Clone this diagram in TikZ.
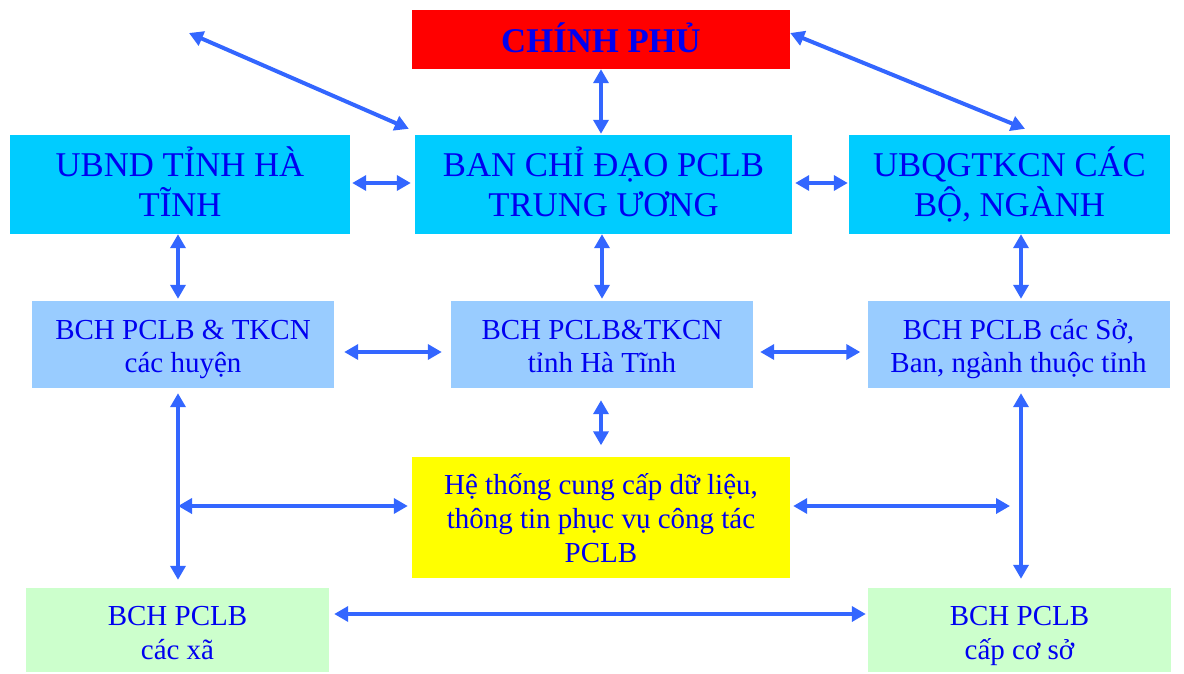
\documentclass[tikz,border=0pt]{standalone}
\usepackage{fontspec}
\setmainfont{Liberation Serif}
\usetikzlibrary{arrows.meta,calc}
\definecolor{govred}{RGB}{255,0,0}
\definecolor{boxcyan}{RGB}{0,204,255}
\definecolor{boxlblue}{RGB}{153,204,255}
\definecolor{boxyellow}{RGB}{255,255,0}
\definecolor{boxgreen}{RGB}{204,255,204}
\definecolor{arrblue}{RGB}{51,102,255}
\definecolor{txtblue}{RGB}{0,0,240}
\newcommand\hstrut[1]{\rule{0pt}{#1}}
\newcommand\dstrut[1]{\rule[-#1]{0pt}{#1}}
\tikzset{
  box/.style={inner sep=0pt, align=center, text=txtblue, anchor=center},
  bigbox/.style={box, fill=boxcyan, minimum height=99pt, font=\fontsize{34.7}{40}\selectfont},
  midbox/.style={box, fill=boxlblue, minimum height=87pt, minimum width=302pt, font=\fontsize{29}{33}\selectfont},
  lowbox/.style={box, fill=boxgreen, minimum height=84pt, minimum width=303pt, font=\fontsize{29}{34}\selectfont},
  arr/.style={draw=arrblue, line width=4pt, {Triangle[length=14pt,width=15pt]}-{Triangle[length=14pt,width=15pt]}},
}
\begin{document}
\begin{tikzpicture}[x=1pt,y=-1pt]
\useasboundingbox (0,0) rectangle (1184,673);
% nodes
\node[box, fill=govred, minimum width=378pt, minimum height=59pt, font=\fontsize{34.7}{40}\selectfont\bfseries] (gov) at (601,39.5) {\hstrut{33.6pt}CHÍNH PHỦ\dstrut{8pt}};
\node[bigbox, minimum width=340pt] (ubnd) at (180,184.5) {\hstrut{34.4pt}UBND TỈNH HÀ\\TĨNH\dstrut{10pt}};
\node[bigbox, minimum width=377pt] (ban) at (603.5,184.5) {\hstrut{34.4pt}BAN CHỈ ĐẠO PCLB\\TRUNG ƯƠNG\dstrut{10pt}};
\node[bigbox, minimum width=321pt] (ubqg) at (1009.5,184.5) {\hstrut{34.4pt}UBQGTKCN CÁC\\BỘ, NGÀNH\dstrut{10pt}};
\node[midbox] (huyen) at (183,344.5) {\hstrut{30pt}BCH PCLB \& TKCN\\các huyện\dstrut{8pt}};
\node[midbox] (tinh) at (602,344.5) {\hstrut{30pt}BCH PCLB\&TKCN\\tỉnh Hà Tĩnh\dstrut{8pt}};
\node[midbox] (so) at (1018.5,344.5) {\hstrut{30pt}BCH PCLB các Sở,\\Ban, ngành thuộc tỉnh\dstrut{8pt}};
\node[box, fill=boxyellow, minimum width=378pt, minimum height=121pt, font=\fontsize{29}{34}\selectfont] (ht) at (601,517) {\hstrut{30pt}Hệ thống cung cấp dữ liệu,\\thông tin phục vụ công tác\\PCLB\dstrut{8pt}};
\node[lowbox] (xa) at (177.5,630) {\hstrut{32pt}BCH PCLB\\các xã\dstrut{8pt}};
\node[lowbox] (coso) at (1019.5,630) {\hstrut{32pt}BCH PCLB\\cấp cơ sở\dstrut{8pt}};
% free ends / junctions
\coordinate (tl) at (189,33);
\coordinate (jl) at (178,506);
\coordinate (jr) at (1010,506);
\coordinate (jrv) at (1021,506);
% connectors
\draw[arr] (tl) -- ($(ban.north west)+(-6,-6)$);
\draw[arr] ([yshift=6.5pt]gov.east) -- ($(ubqg.north)+(15.5,-6)$);
\draw[arr, shorten <=0pt, shorten >=1pt] (gov.south) -- (gov.south |- ban.north);
\draw[arr, shorten <=2pt, shorten >=4pt] ([yshift=1.5pt]ubnd.east) -- ([yshift=1.5pt]ban.west);
\draw[arr, shorten <=3pt, shorten >=1pt] ([yshift=1.5pt]ban.east) -- ([yshift=1.5pt]ubqg.west);
\draw[arr, shorten <=0pt, shorten >=2pt] ($(ubnd.south)+(-2,0)$) -- ($(huyen.north)+(-5,0)$);
\draw[arr, shorten <=0pt, shorten >=2pt] (tinh.north |- ban.south) -- (tinh.north);
\draw[arr, shorten <=0pt, shorten >=2pt] ($(so.north |- ubqg.south)+(2.5,0)$) -- ($(so.north)+(2.5,0)$);
\draw[arr, shorten <=10pt, shorten >=9pt] ([yshift=-7.5pt]huyen.east) -- ([yshift=-7.5pt]tinh.west);
\draw[arr, shorten <=7pt, shorten >=7pt] ([yshift=-7.5pt]tinh.east) -- ([yshift=-7.5pt]so.west);
\draw[arr, shorten <=12pt, shorten >=11pt] (tinh.south -| ht.north) -- (ht.north);
\draw[arr, shorten <=5pt, shorten >=8pt] (huyen.south -| jl) -- (xa.north -| jl);
\draw[arr, shorten >=4pt] (jl) -- (ht.west |- jl);
\draw[arr, shorten <=3pt] (ht.east |- jr) -- (jr);
\draw[arr, shorten <=5pt, shorten >=9pt] (so.south -| jrv) -- (coso.north -| jrv);
\draw[arr, shorten <=5pt, shorten >=2pt] ([yshift=16pt]xa.east) -- ([yshift=16pt]coso.west);
\end{tikzpicture}
\end{document}
